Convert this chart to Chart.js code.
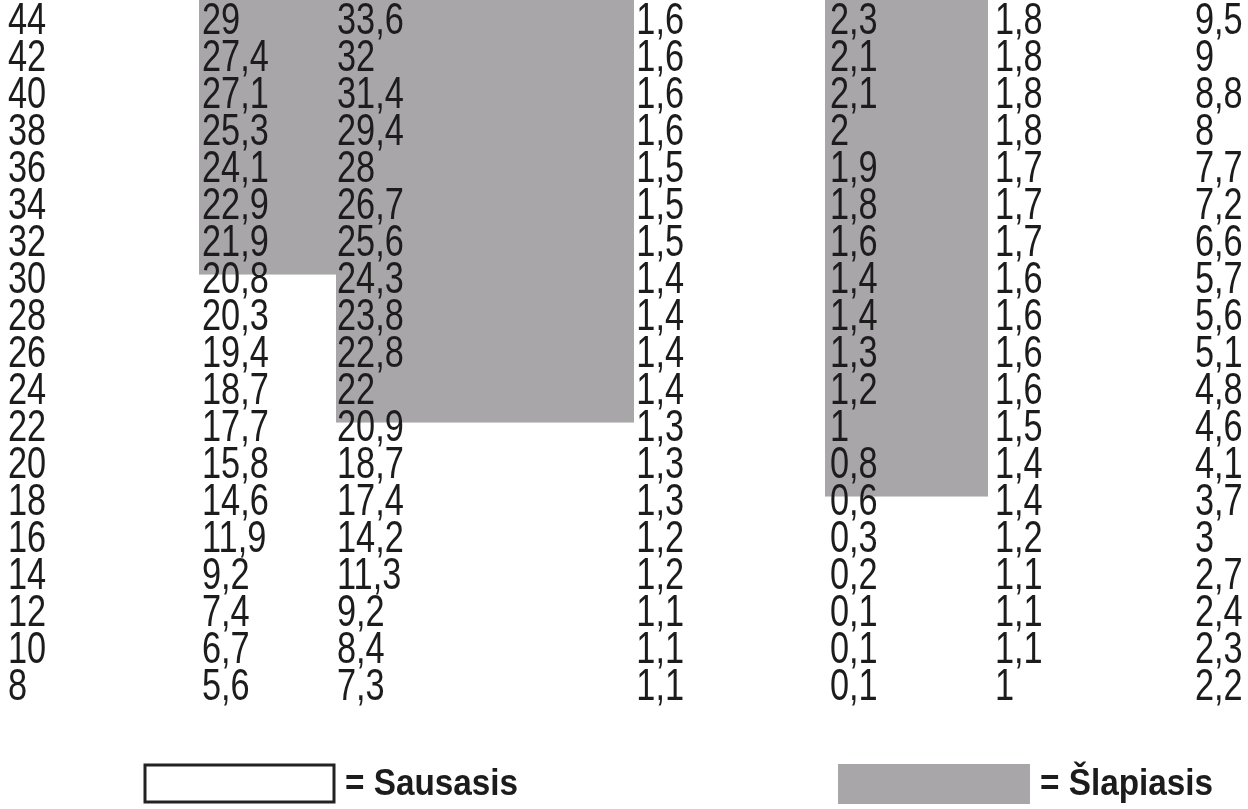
<!DOCTYPE html>
<html><head><meta charset="utf-8">
<script src="https://cdn.jsdelivr.net/npm/chart.js@4/dist/chart.umd.min.js"></script>
<style>html,body{margin:0;padding:0;background:#fff}#w{width:1248px;height:809px}</style>
</head><body><div id="w"><canvas id="c"></canvas></div>
<script>
const rows = [44,42,40,38,36,34,32,30,28,26,24,22,20,18,16,14,12,10,8];
const colA = ["29","27,4","27,1","25,3","24,1","22,9","21,9","20,8","20,3","19,4","18,7","17,7","15,8","14,6","11,9","9,2","7,4","6,7","5,6"];
const colB = ["33,6","32","31,4","29,4","28","26,7","25,6","24,3","23,8","22,8","22","20,9","18,7","17,4","14,2","11,3","9,2","8,4","7,3"];
const colC = ["1,6","1,6","1,6","1,6","1,5","1,5","1,5","1,4","1,4","1,4","1,4","1,3","1,3","1,3","1,2","1,2","1,1","1,1","1,1"];
const colD = ["2,3","2,1","2,1","2","1,9","1,8","1,6","1,4","1,4","1,3","1,2","1","0,8","0,6","0,3","0,2","0,1","0,1","0,1"];
const colE = ["1,8","1,8","1,8","1,8","1,7","1,7","1,7","1,6","1,6","1,6","1,6","1,5","1,4","1,4","1,2","1,1","1,1","1,1","1"];
const colF = ["9,5","9","8,8","8","7,7","7,2","6,6","5,7","5,6","5,1","4,8","4,6","4,1","3,7","3","2,7","2,4","2,3","2,2"];
// wet (shaded) row ranges per region: [lowest shaded row, highest]
const wetRanges = [[32,44],[24,44],[20,44]];
const legendLabels = ["= Sausasis","= Šlapiasis"];

// layout (pixel units on a hidden linear x axis)
const cols = [
  {x:8,align:'left',data:rows.map(String)},
  {x:202,align:'left',data:colA},
  {x:337,align:'left',data:colB},
  {x:684,align:'right',data:colC},
  {x:830,align:'left',data:colD},
  {x:995,align:'left',data:colE},
  {x:1195,align:'left',data:colF}
];
const regionX = [[199,336],[336,634],[825,988]];
const GRAY = '#a8a6a9';

function txt(ctx,s,x,y,align,font,sx){
  ctx.save();ctx.font=font;ctx.textBaseline='middle';
  const w=ctx.measureText(s).width*sx;
  const x0 = align==='right'? x-w : x;
  ctx.translate(x0,y);ctx.scale(sx,1);ctx.textAlign='left';
  ctx.fillText(s,0,0);ctx.restore();
}

const tablePlugin = {
  id:'table',
  beforeDatasetsDraw(chart){
    const ctx=chart.ctx, xs=chart.scales.x, ys=chart.scales.y;
    ctx.save();ctx.fillStyle=GRAY;
    wetRanges.forEach((r,i)=>{
      const top = ys.getPixelForValue(ys.max);
      const bot = ys.getPixelForValue(r[0]-1.7);
      const x0=xs.getPixelForValue(regionX[i][0]), x1=xs.getPixelForValue(regionX[i][1]);
      ctx.fillRect(x0,top,x1-x0,bot-top);
    });
    ctx.restore();
  },
  afterDatasetsDraw(chart){
    const ctx=chart.ctx, xs=chart.scales.x, ys=chart.scales.y;
    ctx.fillStyle='#1c1c1c';
    cols.forEach(c=>{
      c.data.forEach((s,i)=>{
        txt(ctx,s,xs.getPixelForValue(c.x),ys.getPixelForValue(rows[i])+1,c.align,'44px "Liberation Sans"',0.78);
      });
    });
    ctx.save();
    ctx.lineWidth=3;ctx.strokeStyle='#222';ctx.strokeRect(145,765,189,37);
    ctx.fillStyle=GRAY;ctx.fillRect(838,764,192,40);
    ctx.fillStyle='#1c1c1c';
    txt(ctx,legendLabels[0],345,785,'left','bold 37px "Liberation Sans"',0.9);
    txt(ctx,legendLabels[1],1040,785,'left','bold 37px "Liberation Sans"',0.9);
    ctx.restore();
  }
};

new Chart(document.getElementById('c'),{
  type:'scatter',
  data:{datasets:[{data:[],pointRadius:0}]},
  options:{
    responsive:true,maintainAspectRatio:false,animation:false,
    layout:{padding:0},
    plugins:{legend:{display:false},tooltip:{enabled:false}},
    scales:{
      x:{type:'linear',min:0,max:1248,display:false},
      y:{type:'linear',min:1.41,max:45.14,display:false}
    }
  },
  plugins:[tablePlugin]
});
</script></body></html>
